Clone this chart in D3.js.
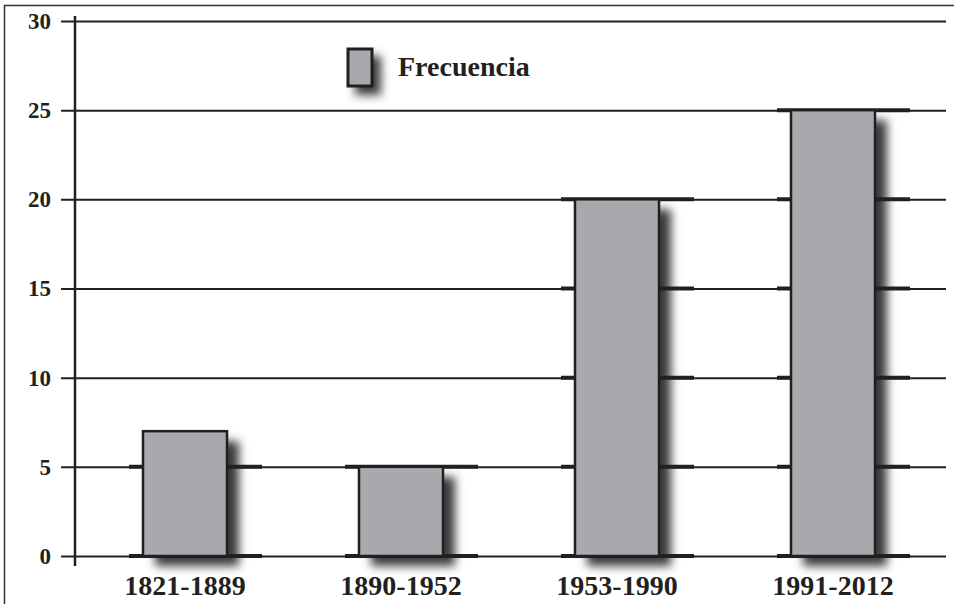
<!DOCTYPE html>
<html>
<head>
<meta charset="utf-8">
<script src="https://cdn.jsdelivr.net/npm/d3@7"></script>
<style>
  body { margin: 0; background: #fff; }
  text { font-family: "Liberation Serif", "Times New Roman", serif; font-weight: bold; fill: #231f20; }
</style>
</head>
<body>
<div id="chart"></div>
<script>
// data
var periods = ["1821-1889", "1890-1952", "1953-1990", "1991-2012"];
var frecuencia = [7, 5, 20, 25];
var yTicks = [0, 5, 10, 15, 20, 25, 30];
var seriesName = "Frecuencia";

var width = 954, height = 604;
var ink = "#231f20", barFill = "#a7a9ac";

var svg = d3.select("#chart").append("svg")
  .attr("width", width)
  .attr("height", height);

// shadow filter
var defs = svg.append("defs");
defs.append("filter").attr("id", "blur")
    .attr("x", "-50%").attr("y", "-50%").attr("width", "200%").attr("height", "200%")
  .append("feGaussianBlur").attr("stdDeviation", 5);

var y = d3.scaleLinear().domain([0, 30]).range([556, 21]);
var x = d3.scaleBand().domain(periods).range([77, 941])
  .paddingInner(0.611).paddingOuter(0.3055);

var data = periods.map(function(p, i) { return { period: p, value: frecuencia[i] }; });

// outer frame (top and left only)
svg.append("path")
  .attr("d", "M4.5,604 V5.5 H954")
  .attr("fill", "none").attr("stroke", "#333").attr("stroke-width", 1.5);

// shadows
svg.append("g").selectAll("rect")
  .data(data).enter().append("rect")
    .attr("x", function(d) { return x(d.period) + 12; })
    .attr("y", function(d) { return y(d.value) + 10; })
    .attr("width", x.bandwidth())
    .attr("height", function(d) { return y(0) - y(d.value); })
    .attr("fill", "#3a3a3c")
    .attr("filter", "url(#blur)");

// gridlines + tick labels
var axis = svg.append("g")
  .attr("transform", "translate(61,0)")
  .call(d3.axisLeft(y).tickValues(yTicks).tickSize(-(946 - 61)).tickPadding(10));
axis.select(".domain").remove();
axis.selectAll(".tick line").attr("stroke", ink).attr("stroke-width", 2);
axis.selectAll(".tick text")
  .attr("fill", ink)
  .style("font-size", "23px")
  .style("font-family", "'Liberation Serif', serif")
  .style("font-weight", "bold");

// thick gridline segments around each bar
data.forEach(function(d) {
  var seg = yTicks.filter(function(t) { return t <= d.value; });
  svg.append("g").selectAll("line")
    .data(seg).enter().append("line")
      .attr("x1", x(d.period) - 14)
      .attr("x2", x(d.period) + x.bandwidth() + 35)
      .attr("y1", function(t) { return y(t); })
      .attr("y2", function(t) { return y(t); })
      .attr("stroke", ink).attr("stroke-width", 4);
});

// y axis line
svg.append("line")
  .attr("x1", 75).attr("x2", 75)
  .attr("y1", 16).attr("y2", 566)
  .attr("stroke", ink).attr("stroke-width", 2.5);

// bars
svg.append("g").selectAll("rect")
  .data(data).enter().append("rect")
    .attr("x", function(d) { return x(d.period); })
    .attr("y", function(d) { return y(d.value); })
    .attr("width", x.bandwidth())
    .attr("height", function(d) { return y(0) - y(d.value); })
    .attr("fill", barFill)
    .attr("stroke", ink).attr("stroke-width", 2.5);

// x labels
svg.append("g").selectAll("text")
  .data(periods).enter().append("text")
    .attr("x", function(p) { return x(p) + x.bandwidth() / 2; })
    .attr("y", 595)
    .attr("text-anchor", "middle")
    .style("font-size", "28px")
    .text(function(p) { return p; });

// legend
var legend = svg.append("g");
legend.append("rect")
  .attr("x", 355).attr("y", 56).attr("width", 26).attr("height", 39)
  .attr("fill", "#3a3a3c").attr("filter", "url(#blur)");
legend.append("rect")
  .attr("x", 348).attr("y", 49).attr("width", 24).attr("height", 37)
  .attr("fill", barFill).attr("stroke", ink).attr("stroke-width", 3);
legend.append("text")
  .attr("x", 398).attr("y", 76)
  .style("font-size", "28px")
  .text(seriesName);
</script>
</body>
</html>
